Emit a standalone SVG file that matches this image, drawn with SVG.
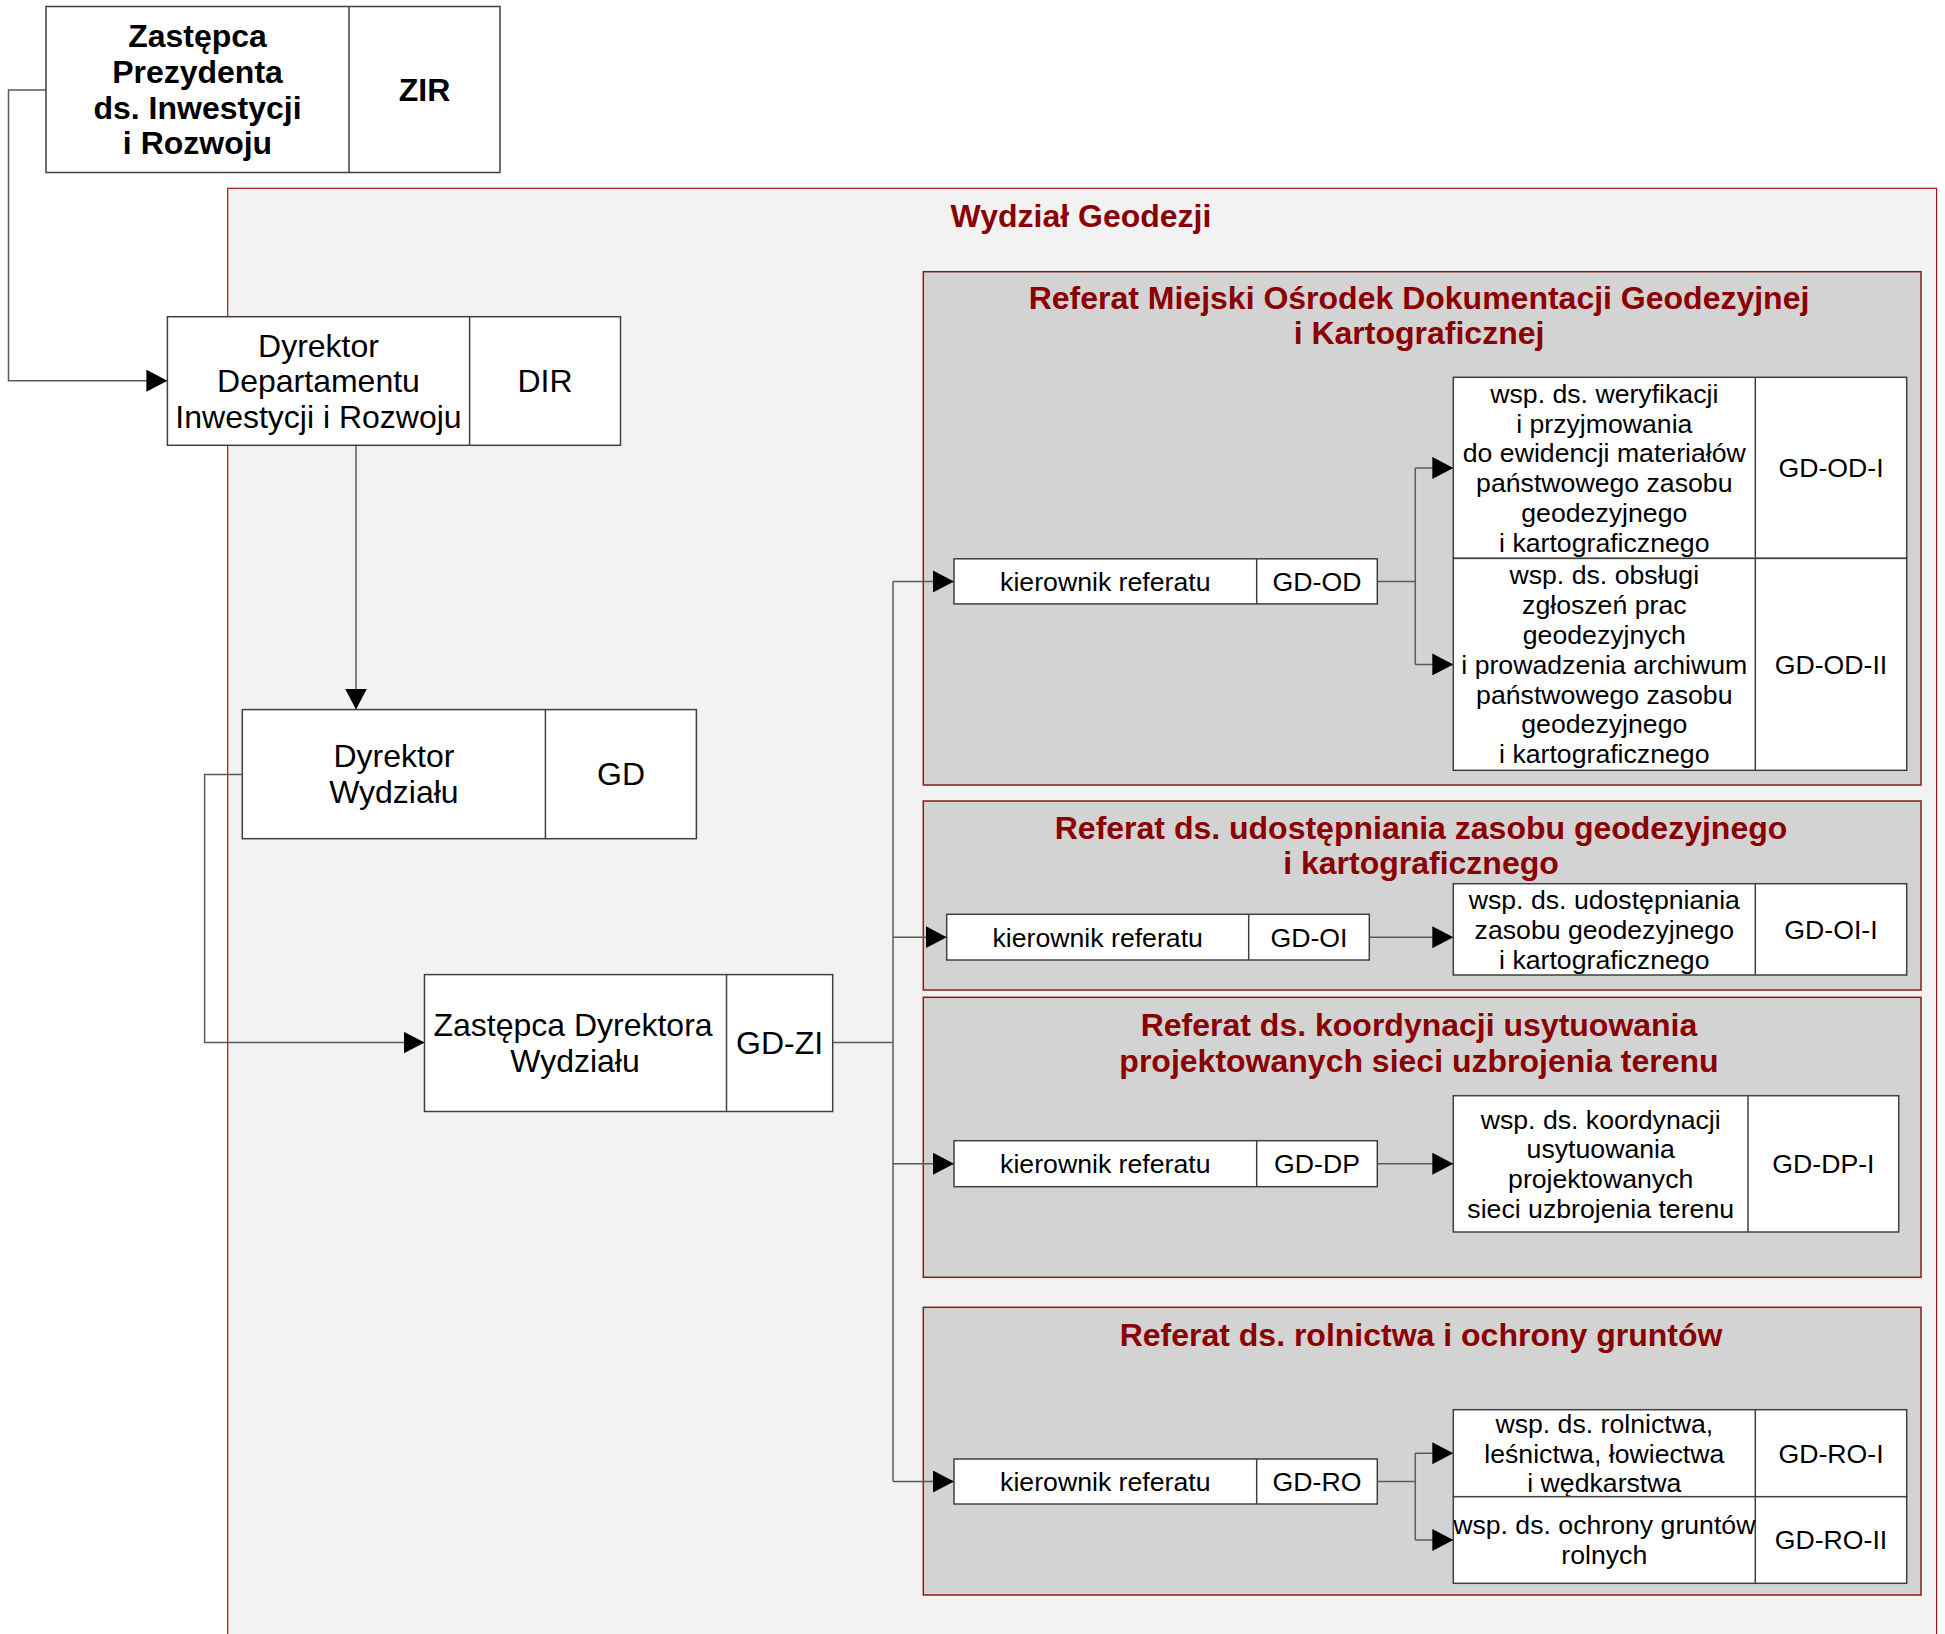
<svg xmlns="http://www.w3.org/2000/svg" width="1945" height="1634" viewBox="0 0 1945 1634">
<style>
.bx{fill:#ffffff;stroke:#404040;stroke-width:1.5}
.dv{stroke:#404040;stroke-width:1.5}
.ref{fill:#d3d3d3;stroke:#8b1a1a;stroke-width:1.5}
.cont{fill:#f2f2f2;stroke:#a01818;stroke-width:1.2}
.t32{font-family:"Liberation Sans",Arial,sans-serif;font-size:32px;fill:#000;text-anchor:middle}
.b32{font-family:"Liberation Sans",Arial,sans-serif;font-size:32px;font-weight:bold;fill:#000;text-anchor:middle}
.t27{font-family:"Liberation Sans",Arial,sans-serif;font-size:26.67px;fill:#000;text-anchor:middle}
.ttl{font-family:"Liberation Sans",Arial,sans-serif;font-size:32px;font-weight:bold;fill:#8b0000;text-anchor:middle}
.ln{fill:none;stroke:#5a5a5a;stroke-width:1.5}
</style>
<defs>
<marker id="ah" markerUnits="userSpaceOnUse" markerWidth="22" markerHeight="22" refX="21" refY="11" orient="auto" viewBox="0 0 22 22">
<path d="M0,0 L21,11 L0,22 Z" fill="#000"/>
</marker>
</defs>

<g id="wydzial">
<rect class="cont" x="227.7" y="188.3" width="1708.9" height="1460"/>
<text class="ttl" x="1081" y="226.7">Wydział Geodezji</text>
</g>

<g id="ref-od">
<rect class="ref" x="923.3" y="271.7" width="997.7" height="513.3"/>
<text class="ttl" x="1419" y="308.5">Referat Miejski Ośrodek Dokumentacji Geodezyjnej</text>
<text class="ttl" x="1419" y="344.2">i Kartograficznej</text>
</g>
<g id="ref-oi">
<rect class="ref" x="923.3" y="801" width="997.7" height="189"/>
<text class="ttl" x="1421" y="838.5">Referat ds. udostępniania zasobu geodezyjnego</text>
<text class="ttl" x="1421" y="874">i kartograficznego</text>
</g>
<g id="ref-dp">
<rect class="ref" x="923.3" y="997.3" width="997.7" height="280"/>
<text class="ttl" x="1419" y="1036">Referat ds. koordynacji usytuowania</text>
<text class="ttl" x="1419" y="1071.7">projektowanych sieci uzbrojenia terenu</text>
</g>
<g id="ref-ro">
<rect class="ref" x="923.3" y="1307.3" width="997.7" height="287.7"/>
<text class="ttl" x="1421" y="1346">Referat ds. rolnictwa i ochrony gruntów</text>
</g>

<g id="connectors">
<polyline class="ln" points="46,90 8.5,90 8.5,380.7 167.4,380.7" marker-end="url(#ah)"/>
<polyline class="ln" points="356,445.3 356,709.6" marker-end="url(#ah)"/>
<polyline class="ln" points="242.3,774.6 204.6,774.6 204.6,1042.6 424.5,1042.6" marker-end="url(#ah)"/>
<polyline class="ln" points="832.7,1042.6 893,1042.6"/>
<polyline class="ln" points="893,581.4 893,1481.5"/>
<polyline class="ln" points="893,581.4 954,581.4" marker-end="url(#ah)"/>
<polyline class="ln" points="893,937.2 946.7,937.2" marker-end="url(#ah)"/>
<polyline class="ln" points="893,1163.7 954,1163.7" marker-end="url(#ah)"/>
<polyline class="ln" points="893,1481.5 954,1481.5" marker-end="url(#ah)"/>
<polyline class="ln" points="1377.3,581.4 1415.3,581.4"/>
<polyline class="ln" points="1415.3,467.9 1415.3,664.4"/>
<polyline class="ln" points="1415.3,467.9 1453.3,467.9" marker-end="url(#ah)"/>
<polyline class="ln" points="1415.3,664.4 1453.3,664.4" marker-end="url(#ah)"/>
<polyline class="ln" points="1369.3,937.2 1453.3,937.2" marker-end="url(#ah)"/>
<polyline class="ln" points="1377.3,1163.7 1453.3,1163.7" marker-end="url(#ah)"/>
<polyline class="ln" points="1377.3,1481.5 1415.3,1481.5"/>
<polyline class="ln" points="1415.3,1453.2 1415.3,1540"/>
<polyline class="ln" points="1415.3,1453.2 1453.3,1453.2" marker-end="url(#ah)"/>
<polyline class="ln" points="1415.3,1540 1453.3,1540" marker-end="url(#ah)"/>
</g>

<g id="zir">
<rect class="bx" x="46" y="6.5" width="454" height="166"/>
<line class="dv" x1="349" y1="6.5" x2="349" y2="172.5"/>
<text class="b32" x="197.5" y="47.1">Zastępca</text>
<text class="b32" x="197.5" y="82.8">Prezydenta</text>
<text class="b32" x="197.5" y="118.5">ds. Inwestycji</text>
<text class="b32" x="197.5" y="154.2">i Rozwoju</text>
<text class="b32" x="424.5" y="100.7">ZIR</text>
</g>

<g id="dir">
<rect class="bx" x="167.4" y="316.7" width="453.1" height="128.6"/>
<line class="dv" x1="469.6" y1="316.7" x2="469.6" y2="445.3"/>
<text class="t32" x="318.5" y="356.5">Dyrektor</text>
<text class="t32" x="318.5" y="392.2">Departamentu</text>
<text class="t32" x="318.5" y="427.9">Inwestycji i Rozwoju</text>
<text class="t32" x="545" y="392.2">DIR</text>
</g>

<g id="gd">
<rect class="bx" x="242.3" y="709.6" width="454.1" height="129.1"/>
<line class="dv" x1="545.4" y1="709.6" x2="545.4" y2="838.7"/>
<text class="t32" x="393.9" y="767.4">Dyrektor</text>
<text class="t32" x="393.9" y="803.1">Wydziału</text>
<text class="t32" x="621" y="785.3">GD</text>
</g>

<g id="gd-zi">
<rect class="bx" x="424.5" y="974.6" width="408.2" height="136.9"/>
<line class="dv" x1="726.5" y1="974.6" x2="726.5" y2="1111.5"/>
<text class="t32" x="573" y="1036.4">Zastępca Dyrektora</text>
<text class="t32" x="575" y="1072.1">Wydziału</text>
<text class="t32" x="779.6" y="1054.3">GD-ZI</text>
</g>

<g id="gd-od">
<rect class="bx" x="954" y="558.8" width="423.3" height="45.1"/>
<line class="dv" x1="1256.7" y1="558.8" x2="1256.7" y2="603.9"/>
<text class="t27" x="1105.3" y="590.7">kierownik referatu</text>
<text class="t27" x="1317" y="590.7">GD-OD</text>
</g>

<g id="gd-od-i">
<rect class="bx" x="1453.3" y="377.3" width="453.4" height="181.1"/>
<line class="dv" x1="1755.3" y1="377.3" x2="1755.3" y2="558.4"/>
<text class="t27" x="1604.3" y="402.7">wsp. ds. weryfikacji</text>
<text class="t27" x="1604.3" y="432.5">i przyjmowania</text>
<text class="t27" x="1604.3" y="462.3">do ewidencji materiałów</text>
<text class="t27" x="1604.3" y="492.1">państwowego zasobu</text>
<text class="t27" x="1604.3" y="521.9">geodezyjnego</text>
<text class="t27" x="1604.3" y="551.7">i kartograficznego</text>
<text class="t27" x="1831" y="477.2">GD-OD-I</text>
</g>

<g id="gd-od-ii">
<rect class="bx" x="1453.3" y="558.4" width="453.4" height="211.9"/>
<line class="dv" x1="1755.3" y1="558.4" x2="1755.3" y2="770.3"/>
<text class="t27" x="1604.3" y="584.3">wsp. ds. obsługi</text>
<text class="t27" x="1604.3" y="614.1">zgłoszeń prac</text>
<text class="t27" x="1604.3" y="643.9">geodezyjnych</text>
<text class="t27" x="1604.3" y="673.7">i prowadzenia archiwum</text>
<text class="t27" x="1604.3" y="703.5">państwowego zasobu</text>
<text class="t27" x="1604.3" y="733.3">geodezyjnego</text>
<text class="t27" x="1604.3" y="763.1">i kartograficznego</text>
<text class="t27" x="1831" y="673.7">GD-OD-II</text>
</g>

<g id="gd-oi">
<rect class="bx" x="946.7" y="914.3" width="422.6" height="45.7"/>
<line class="dv" x1="1248.7" y1="914.3" x2="1248.7" y2="960"/>
<text class="t27" x="1097.7" y="946.5">kierownik referatu</text>
<text class="t27" x="1309" y="946.5">GD-OI</text>
</g>

<g id="gd-oi-i">
<rect class="bx" x="1453.3" y="883.7" width="453.4" height="91.3"/>
<line class="dv" x1="1755.3" y1="883.7" x2="1755.3" y2="975"/>
<text class="t27" x="1604.3" y="908.9">wsp. ds. udostępniania</text>
<text class="t27" x="1604.3" y="938.7">zasobu geodezyjnego</text>
<text class="t27" x="1604.3" y="968.5">i kartograficznego</text>
<text class="t27" x="1831" y="938.7">GD-OI-I</text>
</g>

<g id="gd-dp">
<rect class="bx" x="954" y="1140.7" width="423.3" height="46"/>
<line class="dv" x1="1256.7" y1="1140.7" x2="1256.7" y2="1186.7"/>
<text class="t27" x="1105.3" y="1173">kierownik referatu</text>
<text class="t27" x="1317" y="1173">GD-DP</text>
</g>

<g id="gd-dp-i">
<rect class="bx" x="1453.3" y="1095.7" width="445.4" height="136.3"/>
<line class="dv" x1="1748" y1="1095.7" x2="1748" y2="1232"/>
<text class="t27" x="1600.7" y="1128.5">wsp. ds. koordynacji</text>
<text class="t27" x="1600.7" y="1158.3">usytuowania</text>
<text class="t27" x="1600.7" y="1188.1">projektowanych</text>
<text class="t27" x="1600.7" y="1217.9">sieci uzbrojenia terenu</text>
<text class="t27" x="1823.4" y="1173.2">GD-DP-I</text>
</g>

<g id="gd-ro">
<rect class="bx" x="954" y="1459" width="423.3" height="45"/>
<line class="dv" x1="1256.7" y1="1459" x2="1256.7" y2="1504"/>
<text class="t27" x="1105.3" y="1490.8">kierownik referatu</text>
<text class="t27" x="1317" y="1490.8">GD-RO</text>
</g>

<g id="gd-ro-i">
<rect class="bx" x="1453.3" y="1409.7" width="453.4" height="87"/>
<line class="dv" x1="1755.3" y1="1409.7" x2="1755.3" y2="1496.7"/>
<text class="t27" x="1604.3" y="1432.7">wsp. ds. rolnictwa,</text>
<text class="t27" x="1604.3" y="1462.5">leśnictwa, łowiectwa</text>
<text class="t27" x="1604.3" y="1492.3">i wędkarstwa</text>
<text class="t27" x="1831" y="1462.5">GD-RO-I</text>
</g>

<g id="gd-ro-ii">
<rect class="bx" x="1453.3" y="1496.7" width="453.4" height="86.6"/>
<line class="dv" x1="1755.3" y1="1496.7" x2="1755.3" y2="1583.3"/>
<text class="t27" x="1604.3" y="1534.4">wsp. ds. ochrony gruntów</text>
<text class="t27" x="1604.3" y="1564.2">rolnych</text>
<text class="t27" x="1831" y="1549.3">GD-RO-II</text>
</g>
</svg>
